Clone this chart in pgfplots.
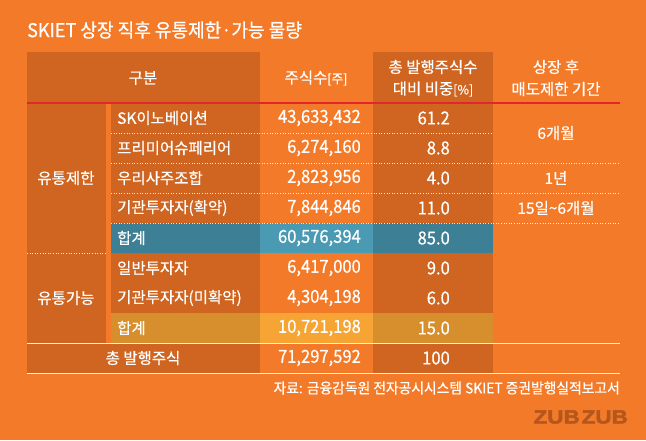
\documentclass[border=0pt]{standalone}
\usepackage{pgfplots}
\pgfplotsset{compat=1.18}
\usepackage{pgfplotstable}
\usepackage{fontspec}
\setmainfont{Noto Sans CJK KR}[FakeBold=0.5]
\newfontfamily\numf{Noto Sans CJK KR}[FakeBold=0.5, FakeStretch=0.92]
\newfontfamily\titlef{Noto Sans CJK KR}[FakeBold=0.6, FakeStretch=0.95]
\newfontfamily\srcf{Noto Sans CJK KR}[FakeBold=0.4, FakeStretch=0.95]
\newfontfamily\logofont{Liberation Sans Bold}[FakeBold=2.5, FakeStretch=1.18]
\definecolor{bg}{HTML}{F37A28}
\definecolor{dk}{HTML}{CF6520}
\definecolor{teal1}{HTML}{3D7F94}
\definecolor{teal2}{HTML}{4B9AB3}
\definecolor{gold1}{HTML}{D68F2C}
\definecolor{gold2}{HTML}{F6A534}
\definecolor{redl}{HTML}{E3262B}
\definecolor{logoc}{HTML}{B5561D}

\pgfplotstableread[col sep=semicolon]{
y;name;shares;pct
118;SK이노베이션;43,633,432;61.2
148;프리미어슈페리어;6,274,160;8.8
178;우리사주조합;2,823,956;4.0
208;기관투자자(확약);7,844,846;11.0
238;합계;60,576,394;85.0
268;일반투자자;6,417,000;9.0
298;기관투자자(미확약);4,304,198;6.0
328;합계;10,721,198;15.0
}\rows
\pgfplotstableread[col sep=semicolon]{
y;name;shares;pct
358;총 발행주식;71,297,592;100
}\total

\newcommand{\bodyfont}{\fontsize{15.5}{17}\selectfont}
\newcommand{\numfont}{\numf\fontsize{18}{20}\selectfont}

\begin{document}
\begin{tikzpicture}
\begin{axis}[scale only axis, width=646pt, height=440pt,
  xmin=0, xmax=646, ymin=0, ymax=440, y dir=reverse, hide axis,
  every axis plot/.append style={draw=none, mark=none},
  txt/.style={nodes near coords, point meta=explicit symbolic,
     every node near coord/.append style={text=white, inner sep=0pt}}]
% background
\fill[bg] (axis cs:0,0) rectangle (axis cs:646,440);
% dark columns
\fill[dk] (axis cs:27,52) rectangle (axis cs:260,103);
\fill[dk] (axis cs:27,103) rectangle (axis cs:106,343);
\fill[dk] (axis cs:111,103) rectangle (axis cs:260,343);
\fill[dk] (axis cs:27,343) rectangle (axis cs:260,373);
\fill[dk] (axis cs:373,52) rectangle (axis cs:493,373);
% highlighted sums
\fill[teal1] (axis cs:111,223) rectangle (axis cs:493,253);
\fill[teal2] (axis cs:260,223) rectangle (axis cs:373,253);
\fill[gold1] (axis cs:111,313) rectangle (axis cs:493,343);
\fill[gold2] (axis cs:260,313) rectangle (axis cs:373,343);
% lines
\draw[white, opacity=0.85, line width=0.9pt, dash pattern=on 1pt off 1.6pt] (axis cs:111,133) -- (axis cs:493,133);
\draw[white, opacity=0.85, line width=0.9pt, dash pattern=on 1pt off 1.6pt] (axis cs:111,163) -- (axis cs:620,163);
\draw[white, opacity=0.85, line width=0.9pt, dash pattern=on 1pt off 1.6pt] (axis cs:111,193) -- (axis cs:620,193);
\draw[white, opacity=0.85, line width=0.9pt, dash pattern=on 1pt off 1.6pt] (axis cs:111,223) -- (axis cs:620,223);
\draw[white, opacity=0.85, line width=0.9pt, dash pattern=on 1pt off 1.6pt] (axis cs:27,253) -- (axis cs:106,253);
\draw[white, opacity=0.9, line width=1pt] (axis cs:27,343) -- (axis cs:620,343);
\draw[white, opacity=0.9, line width=1pt] (axis cs:27,373) -- (axis cs:620,373);
\draw[redl, line width=1.8pt] (axis cs:27,103) -- (axis cs:620,103);
% title
\node[anchor=west, text=white, inner sep=0pt, font=\titlef\fontsize{19}{21}\selectfont] at (axis cs:27,30) {SKIET 상장 직후 유통제한·가능 물량};
% header
\node[text=white, font=\bodyfont] at (axis cs:143,78) {구분};
\node[text=white, font=\bodyfont] at (axis cs:316,78) {주식수{\fontsize{12.5}{14}\selectfont[주]}};
\node[text=white, font=\bodyfont, align=center, inner sep=0pt] at (axis cs:433,67) {총 발행주식수};
\node[text=white, font=\bodyfont, align=center, inner sep=0pt] at (axis cs:433,89) {대비 비중{\fontsize{12.5}{14}\selectfont[\%]}};
\node[text=white, font=\bodyfont, inner sep=0pt] at (axis cs:556,67) {상장 후};
\node[text=white, font=\bodyfont, inner sep=0pt] at (axis cs:556,89) {매도제한 기간};
% group labels
\node[text=white, font=\bodyfont] at (axis cs:66,178) {유통제한};
\node[text=white, font=\bodyfont] at (axis cs:66,298) {유통가능};
% periods
\node[text=white, font=\bodyfont] at (axis cs:556,133) {6개월};
\node[text=white, font=\bodyfont] at (axis cs:556,178) {1년};
\node[text=white, font=\bodyfont] at (axis cs:556,208) {15일\textasciitilde 6개월};
% data
\addplot[txt, nodes near coords align={anchor=west}, every node near coord/.append style={font=\bodyfont}] table[x expr=117, y=y, meta=name] {\rows};
\addplot[txt, nodes near coords align={anchor=east}, every node near coord/.append style={font=\numfont}] table[x expr=361, y=y, meta=shares] {\rows};
\addplot[txt, nodes near coords align={anchor=east}, every node near coord/.append style={font=\numfont}] table[x expr=450, y=y, meta=pct] {\rows};
\addplot[txt, nodes near coords align={anchor=center}, every node near coord/.append style={font=\bodyfont}] table[x expr=143, y=y, meta=name] {\total};
\addplot[txt, nodes near coords align={anchor=east}, every node near coord/.append style={font=\numfont}] table[x expr=361, y=y, meta=shares] {\total};
\addplot[txt, nodes near coords align={anchor=east}, every node near coord/.append style={font=\numfont}] table[x expr=450, y=y, meta=pct] {\total};
% source and logo
\node[anchor=east, text=white, inner sep=0pt, font=\srcf\fontsize{14.5}{16}\selectfont] at (axis cs:620,388) {자료: 금융감독원 전자공시시스템 SKIET 증권발행실적보고서};
\node[anchor=east, text=logoc, inner sep=0pt, font=\logofont\fontsize{19}{21}\selectfont] at (axis cs:628,417) {ZUB\hspace{2pt}ZUB};
\end{axis}
\end{tikzpicture}
\end{document}
